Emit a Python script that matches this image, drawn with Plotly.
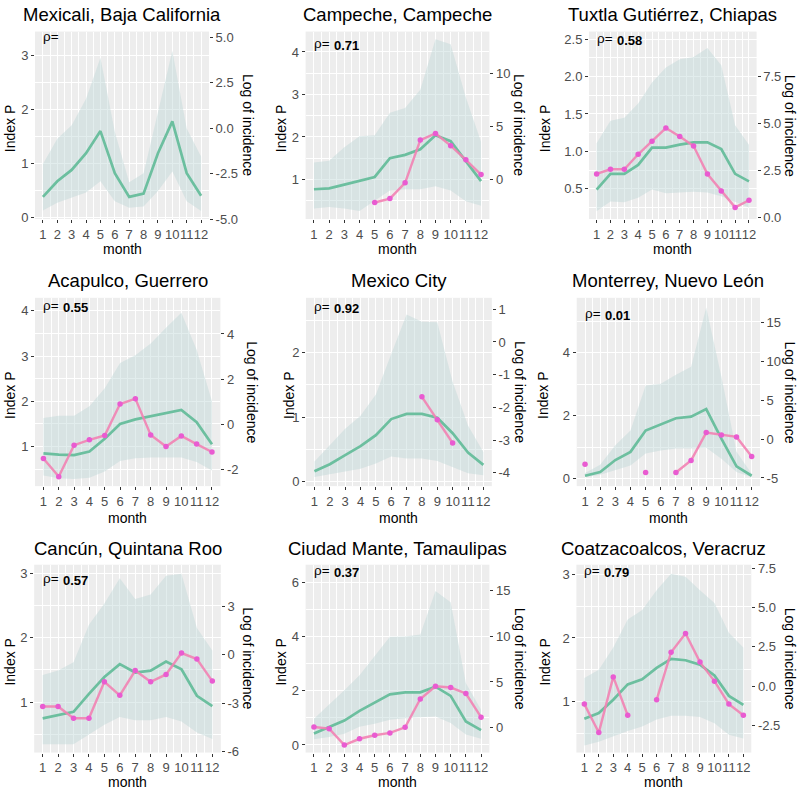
import plotly.graph_objects as go

months = list(range(1, 13))
cities = ["Mexicali, Baja California", "Campeche, Campeche", "Tuxtla Gutiérrez, Chiapas",
          "Acapulco, Guerrero", "Mexico City", "Monterrey, Nuevo León",
          "Cancún, Quintana Roo", "Ciudad Mante, Tamaulipas", "Coatzacoalcos, Veracruz"]
rho_values = ["", "0.71", "0.58", "0.55", "0.92", "0.01", "0.57", "0.37", "0.79"]

# Index P (median, lower, upper) and log of incidence per city
mexicali_mid = [0.38, 0.67, 0.88, 1.19, 1.60, 0.82, 0.38, 0.44, 1.19, 1.78, 0.82, 0.40]
mexicali_low = [0.13, 0.27, 0.37, 0.46, 0.67, 0.30, 0.18, 0.20, 0.49, 0.85, 0.30, 0.12]
mexicali_high = [0.99, 1.46, 1.71, 2.20, 2.96, 1.59, 0.65, 0.82, 1.95, 3.09, 1.65, 1.13]
mexicali_inc = [None] * 12

campeche_mid = [0.77, 0.79, 0.88, 0.97, 1.06, 1.50, 1.58, 1.71, 2.04, 1.90, 1.42, 0.96]
campeche_low = [0.32, 0.35, 0.32, 0.26, 0.49, 0.74, 0.77, 0.77, 0.84, 0.74, 0.49, 0.38]
campeche_high = [1.40, 1.44, 1.76, 2.02, 2.04, 2.57, 2.68, 3.11, 4.30, 4.18, 2.93, 1.89]
campeche_inc = [None, None, None, None, -2.17, -1.80, -0.31, 3.73, 4.35, 3.20, 1.86, 0.47]

tuxtla_mid = [0.49, 0.70, 0.70, 0.82, 1.05, 1.05, 1.09, 1.12, 1.12, 1.03, 0.70, 0.60]
tuxtla_low = [0.20, 0.33, 0.32, 0.38, 0.49, 0.44, 0.45, 0.46, 0.45, 0.40, 0.32, 0.25]
tuxtla_high = [1.11, 1.41, 1.45, 1.64, 1.92, 2.12, 2.23, 2.26, 2.38, 2.15, 1.35, 1.09]
tuxtla_inc = [2.31, 2.56, 2.56, 3.36, 4.06, 4.76, 4.31, 3.80, 2.31, 1.40, 0.53, 0.91]

acapulco_mid = [0.85, 0.82, 0.81, 0.89, 1.17, 1.50, 1.60, 1.67, 1.74, 1.81, 1.54, 1.05]
acapulco_low = [0.36, 0.30, 0.28, 0.31, 0.45, 0.68, 0.74, 0.76, 0.76, 0.76, 0.66, 0.47]
acapulco_high = [1.63, 1.68, 1.68, 1.89, 2.29, 2.85, 3.02, 3.28, 3.63, 3.96, 3.14, 2.00]
acapulco_inc = [-1.51, -2.31, -0.92, -0.68, -0.49, 0.90, 1.14, -0.47, -0.98, -0.51, -0.87, -1.22]

cdmx_mid = [0.16, 0.27, 0.41, 0.55, 0.72, 0.97, 1.05, 1.05, 0.99, 0.75, 0.45, 0.26]
cdmx_low = [0.07, 0.12, 0.16, 0.20, 0.28, 0.39, 0.36, 0.36, 0.32, 0.22, 0.13, 0.10]
cdmx_high = [0.31, 0.56, 0.82, 1.02, 1.35, 1.98, 2.59, 2.48, 2.47, 1.55, 0.87, 0.46]
cdmx_inc = [None, None, None, None, None, None, None, -1.68, -2.38, -3.09, None, None]

monterrey_mid = [0.09, 0.21, 0.59, 0.85, 1.53, 1.72, 1.92, 1.97, 2.21, 1.27, 0.39, 0.09]
monterrey_low = [0.04, 0.12, 0.28, 0.42, 0.80, 0.89, 0.96, 0.96, 0.98, 0.63, 0.21, 0.04]
monterrey_high = [0.18, 0.44, 1.06, 1.53, 2.96, 3.02, 3.30, 3.56, 5.44, 3.25, 0.85, 0.15]
monterrey_inc = [-3.24, None, None, None, -4.29, None, -4.29, -2.74, 0.84, 0.55, 0.29, -2.23]

cancun_mid = [0.75, 0.80, 0.85, 1.13, 1.39, 1.59, 1.46, 1.49, 1.63, 1.51, 1.10, 0.94]
cancun_low = [0.35, 0.35, 0.35, 0.50, 0.65, 0.77, 0.72, 0.72, 0.77, 0.70, 0.53, 0.43]
cancun_high = [1.42, 1.49, 1.62, 2.20, 2.53, 2.92, 2.60, 2.67, 2.96, 2.99, 2.15, 1.80]
cancun_inc = [-3.20, -3.20, -3.92, -3.92, -1.67, -2.51, -0.98, -1.67, -1.22, 0.10, -0.27, -1.63]

mante_mid = [0.42, 0.67, 0.90, 1.26, 1.56, 1.87, 1.94, 1.94, 2.15, 1.81, 0.87, 0.55]
mante_low = [0.21, 0.29, 0.41, 0.67, 0.78, 0.93, 0.99, 1.02, 1.05, 0.81, 0.39, 0.23]
mante_high = [0.97, 1.48, 2.02, 2.57, 3.26, 3.99, 4.00, 4.08, 5.68, 5.27, 2.29, 1.30]
mante_inc = [0.07, -0.11, -1.91, -1.22, -0.83, -0.58, 0.04, 3.13, 4.53, 4.39, 3.74, 1.15]

coatza_mid = [0.73, 0.82, 1.03, 1.27, 1.35, 1.53, 1.67, 1.65, 1.58, 1.41, 1.09, 0.95]
coatza_low = [0.31, 0.37, 0.45, 0.54, 0.61, 0.72, 0.78, 0.78, 0.76, 0.66, 0.48, 0.42]
coatza_high = [1.37, 1.50, 1.85, 2.29, 2.44, 2.75, 3.01, 2.96, 2.75, 2.55, 2.08, 1.85]
coatza_inc = [-1.15, -2.96, 0.58, -1.86, None, -0.88, 2.15, 3.34, 1.52, 0.31, -1.15, -1.86]

# tick values (left: Index P, right: Log of incidence)
left_ticks = [[0, 1, 2, 3], [1, 2, 3, 4], [0.5, 1.0, 1.5, 2.0, 2.5], [1, 2, 3, 4], [0, 1, 2],
              [0, 2, 4], [1, 2, 3], [0, 2, 4, 6], [1, 2, 3]]
left_labels = [["0", "1", "2", "3"], ["1", "2", "3", "4"], ["0.5", "1.0", "1.5", "2.0", "2.5"],
               ["1", "2", "3", "4"], ["0", "1", "2"], ["0", "2", "4"], ["1", "2", "3"],
               ["0", "2", "4", "6"], ["1", "2", "3"]]
right_ticks = [[-5.0, -2.5, 0.0, 2.5, 5.0], [0, 5, 10], [0.0, 2.5, 5.0, 7.5], [-2, 0, 2, 4],
               [-4, -3, -2, -1, 0, 1], [-5, 0, 5, 10, 15], [-6, -3, 0, 3], [0, 5, 10, 15],
               [-2.5, 0.0, 2.5, 5.0, 7.5]]
right_labels = [["-5.0", "-2.5", "0.0", "2.5", "5.0"], ["0", "5", "10"], ["0.0", "2.5", "5.0", "7.5"],
                ["-2", "0", "2", "4"], ["-4", "-3", "-2", "-1", "0", "1"], ["-5", "0", "5", "10", "15"],
                ["-6", "-3", "0", "3"], ["0", "5", "10", "15"], ["-2.5", "0.0", "2.5", "5.0", "7.5"]]

series = [
    (mexicali_mid, mexicali_low, mexicali_high, mexicali_inc),
    (campeche_mid, campeche_low, campeche_high, campeche_inc),
    (tuxtla_mid, tuxtla_low, tuxtla_high, tuxtla_inc),
    (acapulco_mid, acapulco_low, acapulco_high, acapulco_inc),
    (cdmx_mid, cdmx_low, cdmx_high, cdmx_inc),
    (monterrey_mid, monterrey_low, monterrey_high, monterrey_inc),
    (cancun_mid, cancun_low, cancun_high, cancun_inc),
    (mante_mid, mante_low, mante_high, mante_inc),
    (coatza_mid, coatza_low, coatza_high, coatza_inc),
]

# ---- layout geometry (pixels) ----
W = H = 797
x_px = [(35, 209), (305.6, 489.4), (589, 756.6), (35, 220.4), (306, 491.8), (576.7, 760),
        (34.2, 220.8), (305.6, 489.4), (576.4, 751.3)]
row_px = [(28, 218.3), (298.3, 489.5), (569.3, 760)]
left_range = [[-0.03, 3.445], [0.07, 4.48], [0.097, 2.60], [0.124, 4.29], [-0.07, 2.85],
              [-0.24, 5.75], [0.22, 3.13], [-0.28, 6.65], [0.2, 3.15]]
right_range = [[-5.0, 5.33], [-3.73, 13.98], [-0.09, 9.9], [-2.73, 5.6], [-4.41, 1.35],
               [-6.05, 18.2], [-6.04, 5.55], [-2.73, 17.84], [-4.23, 7.71]]
left_title_x = [10, 281, 545, 10, 289, 543, 10, 281, 545]
right_title_x = [247.3, 518.3, 789.5, 251.7, 520, 790.5, 248.3, 520, 790]
rho_y = [35, 42, 37, 308, 309, 316, 585, 577, 577]
title_y = [10.5, 280.5, 553]
month_y = [248.5, 521.5, 789.5]

FONT = "Liberation Sans, Arial, sans-serif"
TICKFONT = dict(family=FONT, size=13, color="#4D4D4D")
RIBBON = "rgba(190,214,214,0.45)"
GREEN = "#6CBF9F"
PINK_LINE = "rgba(242,130,178,0.9)"
PINK_PT = "#E95BD1"

fig = go.Figure()
layout = {}
annotations = []

for i in range(9):
    n = i + 1
    sfx = "" if n == 1 else str(n)
    xa, ya, yb = "x" + sfx, "y" + sfx, "y" + str(n + 9)
    mid, low, high, inc = series[i]
    row = i // 3
    l, r = x_px[i]
    t, b = row_px[row]

    fig.add_trace(go.Scatter(x=months + months[::-1], y=high + low[::-1], fill="toself",
                             fillcolor=RIBBON, line=dict(width=0), mode="lines",
                             hoverinfo="skip", showlegend=False, xaxis=xa, yaxis=ya))
    fig.add_trace(go.Scatter(x=months, y=mid, mode="lines", line=dict(color=GREEN, width=2.7),
                             showlegend=False, xaxis=xa, yaxis=ya))
    fig.add_trace(go.Scatter(x=months, y=inc, mode="lines+markers", connectgaps=False,
                             line=dict(color=PINK_LINE, width=2.4),
                             marker=dict(color=PINK_PT, size=5.5),
                             showlegend=False, xaxis=xa, yaxis=yb))

    lt = left_ticks[i]
    step = lt[1] - lt[0]
    minor_y = [lt[0] - step / 2] + [v + step / 2 for v in lt]

    layout["xaxis" + sfx] = dict(
        domain=[l / W, r / W], range=[0.45, 12.55], anchor=ya,
        tickmode="array", tickvals=months, ticktext=[str(m) for m in months], tickangle=0,
        ticks="outside", ticklen=3, tickwidth=1, tickcolor="#333333",
        showgrid=True, gridcolor="white", gridwidth=1.2, zeroline=False, showline=False,
        tickfont=TICKFONT, fixedrange=True,
        minor=dict(tickmode="array", tickvals=[m + 0.5 for m in [0] + months],
                   showgrid=True, gridcolor="white", gridwidth=0.6, ticks=""))
    layout["yaxis" + sfx] = dict(
        domain=[1 - b / H, 1 - t / H], range=left_range[i], anchor=xa,
        tickmode="array", tickvals=lt, ticktext=left_labels[i],
        ticks="outside", ticklen=3, tickwidth=1, tickcolor="#333333",
        showgrid=True, gridcolor="white", gridwidth=1.2, zeroline=False, showline=False,
        tickfont=TICKFONT, fixedrange=True,
        minor=dict(tickmode="array", tickvals=minor_y, showgrid=True,
                   gridcolor="white", gridwidth=0.6, ticks=""))
    layout["yaxis" + str(n + 9)] = dict(
        overlaying=ya, side="right", anchor=xa, range=right_range[i],
        tickmode="array", tickvals=right_ticks[i], ticktext=right_labels[i],
        ticks="outside", ticklen=3, tickwidth=1, tickcolor="#333333",
        showgrid=False, zeroline=False, showline=False, tickfont=TICKFONT, fixedrange=True)

    cy = (t + b) / 2
    annotations.append(dict(text=cities[i], x=(l + r) / 2 / W, y=1 - title_y[row] / H,
                            xref="paper", yref="paper", showarrow=False,
                            xanchor="center", yanchor="middle",
                            font=dict(family=FONT, size=18.5, color="black")))
    annotations.append(dict(text="Index P", x=left_title_x[i] / W, y=1 - (cy + 4) / H,
                            xref="paper", yref="paper", showarrow=False, textangle=-90,
                            xanchor="center", yanchor="middle",
                            font=dict(family=FONT, size=14, color="black")))
    annotations.append(dict(text="Log of incidence", x=right_title_x[i] / W, y=1 - cy / H,
                            xref="paper", yref="paper", showarrow=False, textangle=90,
                            xanchor="center", yanchor="middle",
                            font=dict(family=FONT, size=14, color="black")))
    annotations.append(dict(text="month", x=(l + r) / 2 / W, y=1 - month_y[row] / H,
                            xref="paper", yref="paper", showarrow=False,
                            xanchor="center", yanchor="middle",
                            font=dict(family=FONT, size=14, color="black")))
    annotations.append(dict(text="ρ=", x=1, y=1 - (rho_y[i] - 2) / H, xref=xa, yref="paper",
                            showarrow=False, xanchor="left", yanchor="middle", xshift=-2,
                            font=dict(family=FONT, size=13.5, color="black")))
    if rho_values[i]:
        annotations.append(dict(text="<b>" + rho_values[i] + "</b>", x=1, y=1 - rho_y[i] / H,
                                xref=xa, yref="paper", showarrow=False, xanchor="left",
                                yanchor="middle", xshift=18,
                                font=dict(family=FONT, size=13, color="black")))

fig.update_layout(
    width=W, height=H, autosize=False,
    margin=dict(l=0, r=0, t=0, b=0),
    paper_bgcolor="white", plot_bgcolor="#EDEDED",
    font=dict(family=FONT), showlegend=False,
    annotations=annotations, **layout)

fig.write_html("out.html", config={"displayModeBar": False},
               post_script="document.body.style.margin='0';document.body.style.overflow='hidden';")
